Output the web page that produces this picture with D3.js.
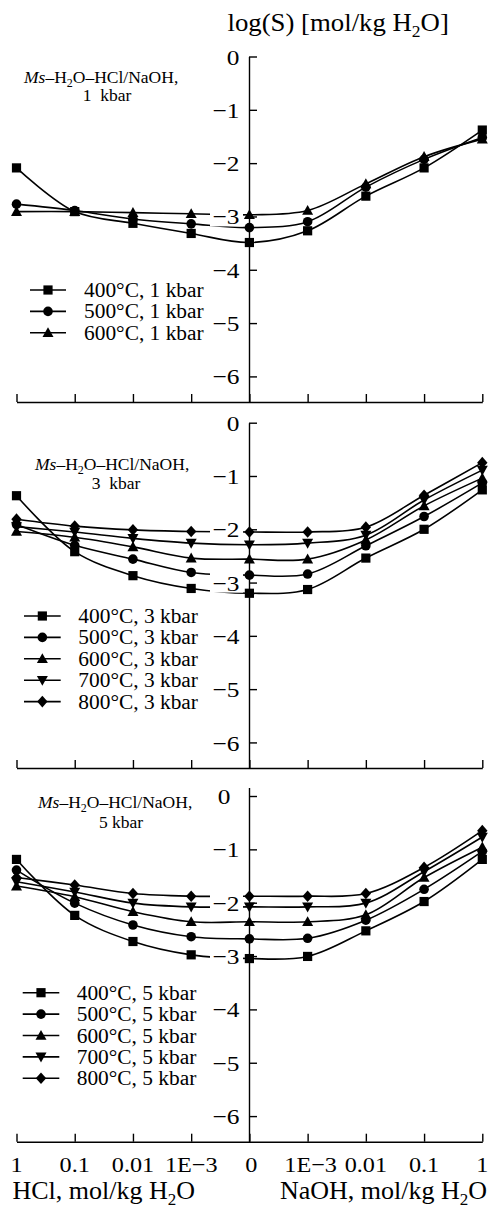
<!DOCTYPE html>
<html>
<head>
<meta charset="utf-8">
<script src="https://cdn.jsdelivr.net/npm/d3@7"></script>
<style>
  html, body { margin: 0; padding: 0; background: #fff; }
  svg { display: block; }
</style>
</head>
<body>
<svg id="chart" width="493" height="1208"></svg>
<script>
// ---- data -----------------------------------------------------------------
// x categories: HCl molality (left of zero), NaOH molality (right of zero)
const xLabels = ["1", "0.1", "0.01", "1E\u22123", "0", "1E\u22123", "0.01", "0.1", "1"];
const yTicks = [0, -1, -2, -3, -4, -5, -6];
const yTickLabels = ["0", "\u22121", "\u22122", "\u22123", "\u22124", "\u22125", "\u22126"];

const pressures = ["1", "3", "5"];
const temperatures = ["400", "500", "600", "700", "800"];

// log(S), muscovite solubility, 1 kbar
const s1_400 = [-2.09, -2.91, -3.13, -3.32, -3.49, -3.27, -2.62, -2.09, -1.38];
const s1_500 = [-2.77, -2.89, -3.05, -3.14, -3.21, -3.10, -2.45, -1.93, -1.52];
const s1_600 = [-2.91, -2.91, -2.93, -2.95, -2.97, -2.89, -2.39, -1.88, -1.55];

// 3 kbar
const s3_400 = [-1.37, -2.42, -2.87, -3.11, -3.20, -3.13, -2.54, -2.00, -1.26];
const s3_500 = [-1.91, -2.30, -2.56, -2.81, -2.86, -2.84, -2.31, -1.76, -1.13];
const s3_600 = [-2.04, -2.15, -2.33, -2.54, -2.56, -2.56, -2.20, -1.56, -1.04];
const s3_700 = [-1.95, -2.05, -2.17, -2.26, -2.29, -2.26, -2.11, -1.45, -0.89];
const s3_800 = [-1.81, -1.94, -2.01, -2.04, -2.05, -2.05, -1.96, -1.36, -0.75];

// 5 kbar
const s5_400 = [-1.19, -2.24, -2.73, -2.98, -3.05, -3.01, -2.53, -1.98, -1.19];
const s5_500 = [-1.39, -2.01, -2.42, -2.64, -2.68, -2.67, -2.33, -1.75, -1.04];
const s5_600 = [-1.69, -1.89, -2.17, -2.36, -2.36, -2.36, -2.23, -1.53, -0.96];
const s5_700 = [-1.61, -1.80, -2.01, -2.08, -2.08, -2.08, -2.01, -1.42, -0.77];
const s5_800 = [-1.53, -1.67, -1.83, -1.88, -1.88, -1.88, -1.83, -1.34, -0.65];

// ---- layout ---------------------------------------------------------------
const FONT = "'Liberation Serif', 'Times New Roman', Times, serif";
const svg = d3.select("#chart").attr("font-family", FONT);
const axisX = 249;           // position of the "0" category (y axis)
const unit = 53.3;           // px per log unit
const yMin = -6.48;          // log value at the x axis

const x = d3.scaleLinear().domain([0, 8]).range([16.5, 482.3]);

const symbolShapes = ["square", "circle", "triangle", "triangleDown", "diamond"];

function markerPath(kind) {
  const p = d3.path();
  if (kind === "square") { p.rect(-4.6, -4.6, 9.2, 9.2); }
  else if (kind === "circle") { p.arc(0, 0, 4.8, 0, 2 * Math.PI); }
  else if (kind === "triangle") { p.moveTo(0, -5.6); p.lineTo(5.5, 4.3); p.lineTo(-5.5, 4.3); p.closePath(); }
  else if (kind === "triangleDown") { p.moveTo(0, 5.6); p.lineTo(5.5, -4.3); p.lineTo(-5.5, -4.3); p.closePath(); }
  else if (kind === "diamond") { p.moveTo(0, -5.8); p.lineTo(5.2, 0); p.lineTo(0, 5.8); p.lineTo(-5.2, 0); p.closePath(); }
  return p.toString();
}

const panels = [
  { p: pressures[0], series: [s1_400, s1_500, s1_600], y0: 56.5, bottom: 402, ext: 0, zeroDx: 0,
    legendRow: 290, legendLine: [30, 66], legendText: 84,
    noteX: 24, noteY: [82.5, 101], noteCenter: 107, kbarSep: "\u2002" },
  { p: pressures[1], series: [s3_400, s3_500, s3_600, s3_700, s3_800], y0: 422.7, bottom: 768, ext: 0, zeroDx: 0,
    legendRow: 616, legendLine: [24, 60.7], legendText: 78.3,
    noteX: 35, noteY: [469.5, 488.5], noteCenter: 116, kbarSep: "\u2002" },
  { p: pressures[2], series: [s5_400, s5_500, s5_600, s5_700, s5_800], y0: 796, bottom: 1141.7, ext: 0.16, zeroDx: -9,
    legendRow: 992.7, legendLine: [22.7, 59.3], legendText: 76.7,
    noteX: 38, noteY: [807.7, 828.3], noteCenter: 121, kbarSep: " " }
];

function stretchedText(g, tx, ty, str, size, sx, anchor) {
  return g.append("text")
    .attr("transform", `translate(${tx},${ty}) scale(${sx},1)`)
    .attr("font-size", size)
    .attr("text-anchor", anchor || "start")
    .attr("fill", "#000")
    .text(str);
}

// axis title at the top
const title = svg.append("text")
  .attr("transform", "translate(227.5,31) scale(1.03,1)")
  .attr("font-size", 26).attr("fill", "#000");
title.append("tspan").text("log(S) [mol/kg H");
title.append("tspan").attr("font-size", 17).attr("dy", 6).text("2");
title.append("tspan").attr("dy", -6).text("O]");

panels.forEach(cfg => {
  const g = svg.append("g");
  const y = d3.scaleLinear().domain([0, -6]).range([cfg.y0, cfg.y0 + 6 * unit]);
  const n = cfg.series.length;

  const line = d3.line()
    .x((d, i) => x(i))
    .y(d => y(d))
    .curve(d3.curveCatmullRom.alpha(0.5));

  // curves
  g.append("g").selectAll("path").data(cfg.series).join("path")
    .attr("d", d => line(d))
    .attr("fill", "none").attr("stroke", "#000").attr("stroke-width", 1.6);

  // y tick labels on white plates (they mask the curves behind them)
  const lab = g.append("g");
  yTicks.forEach((t, i) => {
    const dx = t === 0 ? cfg.zeroDx : 0;
    const str = yTickLabels[i];
    const w = str.length > 1 ? 30 : 14;
    lab.append("rect")
      .attr("x", 240 + dx - w).attr("y", y(t) - 10)
      .attr("width", w + 3).attr("height", 20)
      .attr("fill", "#fff");
    stretchedText(lab, 239.5 + dx, y(t) + 8, str, 21.5, 1.18, "end");
  });

  // axes
  const yAxisScale = y.copy().domain([cfg.ext, yMin]).range([y(cfg.ext), cfg.bottom]);
  g.append("g").attr("transform", `translate(${axisX},0)`)
    .call(d3.axisRight(yAxisScale).tickValues(yTicks).tickSize(8).tickSizeOuter(0).tickFormat(""))
    .call(a => a.selectAll("path,line").attr("stroke", "#000").attr("stroke-width", 1.4));

  g.append("g").attr("transform", `translate(0,${cfg.bottom})`)
    .call(d3.axisTop(x).tickValues(d3.range(9)).tickSize(8).tickSizeOuter(0).tickFormat(""))
    .call(a => a.selectAll("path,line").attr("stroke", "#000").attr("stroke-width", 1.4));

  // markers
  cfg.series.forEach((s, k) => {
    g.append("g").selectAll("path").data(s).join("path")
      .attr("transform", (d, i) => `translate(${x(i)},${y(d)})`)
      .attr("d", markerPath(symbolShapes[k]))
      .attr("fill", "#000");
  });

  // system label
  const note = g.append("text").attr("x", cfg.noteX).attr("y", cfg.noteY[0])
    .attr("font-size", 17.5).attr("fill", "#000");
  note.append("tspan").attr("font-style", "italic").text("Ms");
  note.append("tspan").text("\u2013H");
  note.append("tspan").attr("font-size", 12).attr("dy", 4).text("2");
  note.append("tspan").attr("dy", -4).text("O\u2013HCl/NaOH,");
  g.append("text").attr("x", cfg.noteCenter).attr("y", cfg.noteY[1])
    .attr("font-size", 17.5).attr("text-anchor", "middle").attr("fill", "#000")
    .text(cfg.p + cfg.kbarSep + "kbar");

  // legend
  const lg = g.append("g");
  for (let k = 0; k < n; k++) {
    const ry = cfg.legendRow + k * 21.4;
    lg.append("line")
      .attr("x1", cfg.legendLine[0]).attr("x2", cfg.legendLine[1])
      .attr("y1", ry).attr("y2", ry)
      .attr("stroke", "#000").attr("stroke-width", 1.6);
    lg.append("path")
      .attr("transform", `translate(${(cfg.legendLine[0] + cfg.legendLine[1]) / 2},${ry})`)
      .attr("d", markerPath(symbolShapes[k])).attr("fill", "#000");
    stretchedText(lg, cfg.legendText, ry + 7, `${temperatures[k]}°C, ${cfg.p} kbar`, 20, 1.07, "start");
  }
});

// x tick labels under the bottom panel
const xl = svg.append("g");
xLabels.forEach((s, i) => {
  stretchedText(xl, x(i) + (i === 4 ? 2 : i === 5 ? 3 : 0), 1171.5, s, 22, 1.1, "middle");
});

function axisTitle(tx, anchor, head) {
  const t = svg.append("text").attr("x", tx).attr("y", 1198.5)
    .attr("font-size", 26).attr("text-anchor", anchor).attr("fill", "#000");
  t.append("tspan").text(head + ", mol/kg H");
  t.append("tspan").attr("font-size", 17).attr("dy", 6).text("2");
  t.append("tspan").attr("dy", -6).text("O");
}
axisTitle(12.5, "start", "HCl");
axisTitle(487, "end", "NaOH");
</script>
</body>
</html>
